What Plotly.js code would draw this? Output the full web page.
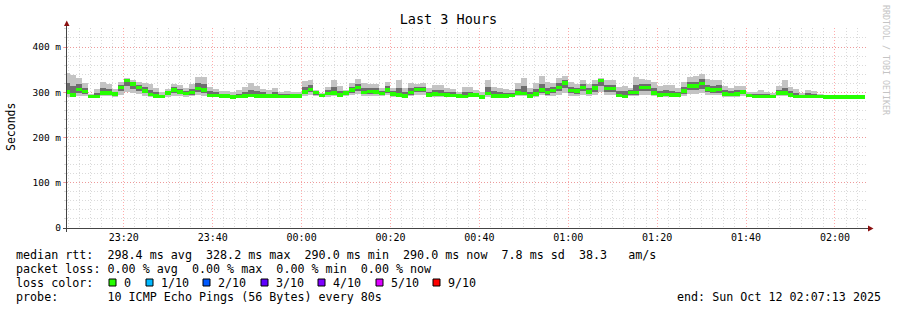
<!DOCTYPE html>
<html><head><meta charset="utf-8">
<script src="https://cdn.plot.ly/plotly-3.0.1.min.js"></script>
<style>html,body{margin:0;padding:0;background:#fff}#chart{width:897px;height:310px}</style>
</head><body><div id="chart"></div>
<script>
// ---------------- data ----------------
const chartTitle = 'Last 3 Hours';
const yAxisTitle = 'Seconds';
const watermark = 'RRDTOOL / TOBI OETIKER';
const rangeStart = '2025-10-11 23:07:13';
const rangeEnd = '2025-10-12 02:07:13';
const firstLabelTick = '2025-10-11 23:20:00';
const lastStepEnd = '2025-10-12T02:06:40';
const stepSeconds = 80;

// median round trip time per 80 s step (ms)
const medianRtt = [
301,294,306,302,291,291,298,298,296,311,326,318,310,303,295,292,291,298,305,301,297,299,308,305,293,293,292,292,
290,291,292,293,292,292,292,292,291,291,292,292,301,306,299,293,297,298,294,298,305,311,300,302,301,297,305,
296,294,292,300,306,306,294,296,295,294,293,292,291,294,294,290,297,292,292,292,293,298,297,292,296,305,
299,304,311,320,304,303,311,301,309,326,308,308,293,291,299,300,310,310,298,294,295,294,294,303,314,314,319,
307,305,306,296,295,296,301,293,291,291,291,291,298,298,294,291,291,291,291,291,290,290,290,290,290,290,290];
// fastest ping of each step (ms)
const pingMin = [
290,290,291,291,289,289,291,291,290,295,300,298,296,292,290,289,289,290,292,291,290,291,293,292,290,290,289,289,
289,289,289,290,289,289,289,289,289,289,289,289,292,294,291,290,290,291,290,291,293,296,292,292,292,291,293,
290,290,289,291,293,293,290,290,290,290,289,289,289,290,290,289,290,289,289,289,289,291,291,289,290,293,
291,292,295,298,292,292,295,292,294,300,294,294,290,289,291,291,294,294,291,290,290,290,290,292,296,296,298,
294,293,293,290,290,290,291,289,289,289,289,289,291,291,290,289,289,289,289,289,289,289,289,289,289,289,289];
// lower edge of the dense middle smoke (ms)
const pingLow = [
296,292,299,297,290,290,295,295,293,303,313,308,303,298,292,290,290,294,299,296,293,295,300,298,291,291,290,290,
289,290,290,291,290,290,290,290,290,290,290,290,296,300,295,291,293,294,292,294,299,303,296,297,296,294,299,
293,292,290,295,300,300,292,293,292,292,291,290,290,292,292,289,293,290,290,290,291,294,294,290,293,299,
295,298,303,309,298,297,303,296,301,313,301,301,291,290,295,295,302,302,294,292,292,292,292,297,305,305,308,
300,299,299,293,292,293,296,291,290,290,290,290,294,294,292,290,290,290,290,290,289,289,289,289,289,289,289];
// upper edge of the dense middle smoke (ms)
const pingHigh = [
320,314,318,310,293,299,309,308,301,316,329,322,316,311,306,300,295,302,311,307,303,308,320,318,302,300,297,296,
295,297,301,306,302,300,297,300,296,297,296,295,312,315,301,296,304,311,303,301,312,319,309,309,309,303,313,
302,309,300,309,311,312,301,304,304,301,300,295,300,301,299,295,311,302,301,299,298,308,313,300,307,318,
309,311,320,328,312,310,318,309,318,329,317,316,302,302,304,315,319,318,309,303,304,303,301,311,323,323,329,
317,314,316,304,302,304,306,296,296,297,296,295,305,310,302,299,295,298,297,294,290,290,290,290,290,290,290];
// slowest ping of each step (ms)
const pingMax = [
343,338,332,320,296,307,322,319,308,322,331,328,322,320,318,310,300,307,318,315,310,318,334,334,312,308,303,302,
300,304,312,320,313,308,304,309,301,303,301,300,325,326,304,299,312,326,313,305,320,330,320,318,318,310,322,
310,328,309,320,318,320,310,315,316,310,308,300,312,311,305,300,328,312,310,307,305,320,332,309,320,335,
322,320,332,337,322,319,326,318,328,332,328,326,312,314,310,334,330,328,322,314,315,315,310,322,334,335,340,
330,326,328,314,310,313,313,300,300,305,300,299,314,326,312,308,298,305,302,296,291,291,291,291,291,290,290];

const yTickVals = [0, 100, 200, 300, 400];
const yTickText = ['0', '100 m', '200 m', '300 m', '400 m'];
const lossColors = ['#26ff00', '#00b8ff', '#0059ff', '#5e00ff', '#7e00ff', '#dd00ff', '#ff0000'];
const lossLabels = ['0', '1/10', '2/10', '3/10', '4/10', '5/10', '9/10'];
const statsMedian = 'median rtt:  298.4 ms avg  328.2 ms max  290.0 ms min  290.0 ms now  7.8 ms sd  38.3   am/s';
const statsLoss = 'packet loss: 0.00 % avg  0.00 % max  0.00 % min  0.00 % now';
const statsColorHead = 'loss color:';
const statsProbe = 'probe:       10 ICMP Echo Pings (56 Bytes) every 80s';
const statsEnd = 'end: Sun Oct 12 02:07:13 2025';

// ---------------- build ----------------
const n = medianRtt.length;
const endMs = Date.parse(lastStepEnd + 'Z');
const times = medianRtt.map((_, i) =>
  new Date(endMs - (n - 1 - i) * stepSeconds * 1000 - stepSeconds * 500).toISOString().replace('Z', ''));

function band(lo, hi, color) {
  return {
    type: 'bar', x: times, base: lo, y: hi.map((h, i) => h - lo[i]),
    width: stepSeconds * 1000, marker: {color: color, line: {width: 0}},
    hoverinfo: 'skip', showlegend: false
  };
}
const medHalf = 3.8;
const medLo = medianRtt.map(v => v - medHalf);
const medHi = medianRtt.map(v => v + medHalf);

const traces = [
  band(pingMin, pingMax, '#c4c4c4'),
  band(pingLow, pingHigh, '#6e6e6e'),
  band(medLo, medHi, lossColors[0])
];

// pixel helpers for decorations
const plotL = 67, plotR = 867, plotT = 28, plotB = 228;
const px = x => (x - plotL) / (plotR - plotL);
const py = y => (plotB - y) / (plotB - plotT);
const nb = s => s.replace(/ /g, '\u00a0');
const mono = 'DejaVu Sans Mono, monospace';
const legendFont = {family: mono, size: 11.7, color: '#000'};

const annotations = [];
function txt(text, x, y, anchor, font) {
  annotations.push({text: nb(text), x: px(x), y: py(y), xref: 'paper', yref: 'paper',
    xanchor: anchor || 'left', yanchor: 'middle', showarrow: false, borderpad: 0, font: font || legendFont});
}
txt(statsMedian, 15, 255);
txt(statsLoss, 15, 268.5);
txt(statsColorHead, 15, 282.5);
txt(statsProbe, 15, 296.5);
txt(statsEnd, 882, 296.5, 'right');

const squareX = [109, 146, 203, 261, 318, 376, 433];
const shapes = [];
lossColors.forEach((c, k) => {
  shapes.push({type: 'rect', xref: 'paper', yref: 'paper',
    x0: px(squareX[k]), x1: px(squareX[k] + 7), y0: py(279), y1: py(286),
    fillcolor: c, line: {color: '#000', width: 1}});
  txt(lossLabels[k], squareX[k] + 13.5, 282.5);
});

// y axis title and watermark
annotations.push({text: yAxisTitle, x: px(11), y: py(127), xref: 'paper', yref: 'paper',
  textangle: -90, showarrow: false, xanchor: 'center', yanchor: 'middle',
  font: {family: mono, size: 11.5, color: '#000'}});
annotations.push({text: nb(watermark), x: px(886), y: py(60), xref: 'paper', yref: 'paper',
  textangle: 90, showarrow: false, xanchor: 'center', yanchor: 'middle',
  font: {family: mono, size: 8.3, color: '#c4c4c4'}});

// axes with arrows
shapes.push({type: 'line', xref: 'paper', yref: 'paper', x0: px(63), x1: px(869), y0: py(228.5), y1: py(228.5), line: {color: '#444', width: 1}});
shapes.push({type: 'line', xref: 'paper', yref: 'paper', x0: px(66.5), x1: px(66.5), y0: py(232), y1: py(25), line: {color: '#444', width: 1}});
shapes.push({type: 'path', xref: 'paper', yref: 'paper',
  path: 'M' + px(64) + ',' + py(26) + ' L' + px(69.5) + ',' + py(26) + ' L' + px(66.75) + ',' + py(20.5) + ' Z',
  fillcolor: '#8b1010', line: {width: 0}});
shapes.push({type: 'path', xref: 'paper', yref: 'paper',
  path: 'M' + px(868) + ',' + py(225.5) + ' L' + px(868) + ',' + py(231.5) + ' L' + px(873.5) + ',' + py(228.5) + ' Z',
  fillcolor: '#8b1010', line: {width: 0}});

const majorGrid = 'rgba(255,90,90,0.5)';
const minorGrid = 'rgba(150,150,150,0.35)';
const dots = '1px,2px';

const layout = {
  width: 897, height: 310,
  margin: {l: plotL, r: 897 - plotR, t: plotT, b: 310 - plotB, pad: 0},
  paper_bgcolor: '#ffffff', plot_bgcolor: '#ffffff',
  barmode: 'overlay', bargap: 0, showlegend: false,
  font: {family: mono, size: 10, color: '#000'},
  title: {text: chartTitle, x: 0.5, xanchor: 'center', xref: 'container',
    y: 1 - 19 / 310, yref: 'container', yanchor: 'middle',
    font: {family: mono, size: 13.5, color: '#000'}},
  xaxis: {
    type: 'date', range: [rangeStart, rangeEnd], tick0: firstLabelTick, dtick: 1200000,
    tickformat: '%H:%M', ticks: '', showline: false, zeroline: false, ticklabelstandoff: 2,
    showgrid: true, gridcolor: majorGrid, griddash: dots, gridwidth: 1,
    minor: {tick0: firstLabelTick, dtick: 150000, showgrid: true, gridcolor: minorGrid, griddash: dots, gridwidth: 1},
    tickfont: {family: mono, size: 10, color: '#000'}, fixedrange: true
  },
  yaxis: {
    range: [0, 442], tickmode: 'array', tickvals: yTickVals, ticktext: yTickText,
    ticks: 'outside', ticklen: 3, tickcolor: majorGrid, showline: false, zeroline: false,
    showgrid: true, gridcolor: majorGrid, griddash: dots, gridwidth: 1,
    minor: {tickmode: 'linear', tick0: 0, dtick: 20, showgrid: true, gridcolor: minorGrid, griddash: dots, gridwidth: 1,
      ticks: 'outside', ticklen: 2, tickcolor: minorGrid},
    tickfont: {family: mono, size: 9.5, color: '#000'}, fixedrange: true
  },
  shapes: shapes,
  annotations: annotations
};

Plotly.newPlot('chart', traces, layout, {staticPlot: true, displayModeBar: false});
</script>
</body></html>
